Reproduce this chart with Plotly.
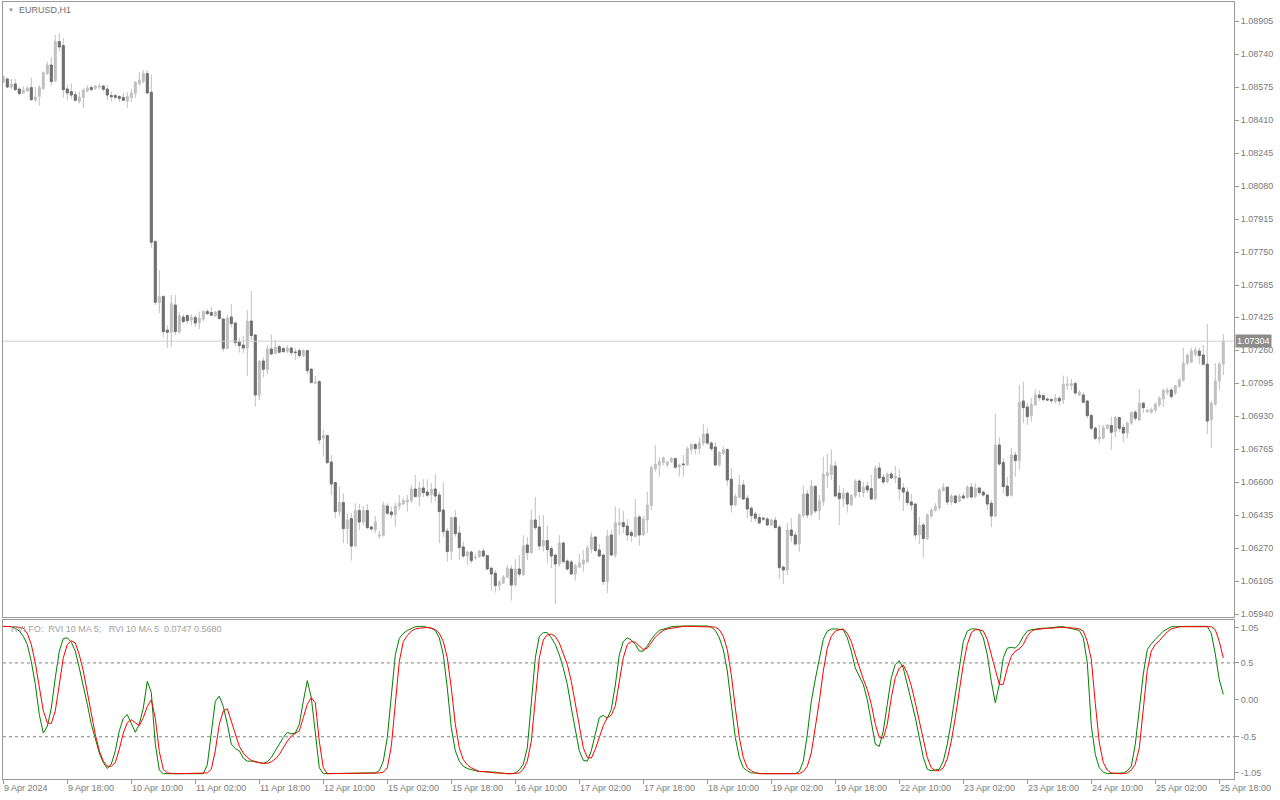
import plotly.graph_objects as go

# ---------------- data (EURUSD H1, 9 Apr 2024 02:00 .. 25 Apr 2024 19:00) ----------------
open_ = [
1.08599,1.08615,1.08575,1.08590,1.08565,1.08545,1.08555,1.08572,1.08510,1.08527,
1.08567,1.08642,1.08685,1.08605,1.08802,1.08782,1.08565,1.08552,1.08537,1.08502,
1.08522,1.08555,1.08572,1.08569,1.08574,1.08580,1.08565,1.08532,1.08532,1.08527,
1.08522,1.08505,1.08522,1.08542,1.08592,1.08602,1.08642,1.08549,1.07802,1.07497,
1.07527,1.07359,1.07349,1.07485,1.07349,1.07425,1.07432,1.07410,1.07422,1.07397,
1.07414,1.07452,1.07447,1.07430,1.07455,1.07415,1.07267,1.07425,1.07395,1.07300,
1.07285,1.07270,1.07405,1.07335,1.07035,1.07205,1.07162,1.07265,1.07242,1.07277,
1.07267,1.07252,1.07270,1.07250,1.07257,1.07232,1.07257,1.07164,1.07094,1.07102,
1.06820,1.06832,1.06700,1.06597,1.06452,1.06497,1.06367,1.06417,1.06280,1.06457,
1.06400,1.06457,1.06375,1.06360,1.06330,1.06334,1.06480,1.06450,1.06435,1.06480,
1.06490,1.06500,1.06507,1.06565,1.06527,1.06570,1.06550,1.06537,1.06565,1.06535,
1.06460,1.06355,1.06252,1.06422,1.06345,1.06275,1.06230,1.06250,1.06222,1.06225,
1.06255,1.06232,1.06169,1.06144,1.06082,1.06095,1.06124,1.06165,1.06085,1.06165,
1.06137,1.06285,1.06247,1.06410,1.06375,1.06280,1.06307,1.06267,1.06235,1.06190,
1.06295,1.06205,1.06200,1.06140,1.06175,1.06190,1.06200,1.06265,1.06325,1.06260,
1.06235,1.06102,1.06335,1.06235,1.06385,1.06397,1.06380,1.06347,1.06327,1.06425,
1.06335,1.06410,1.06482,1.06665,1.06685,1.06697,1.06685,1.06702,1.06717,1.06675,
1.06690,1.06685,1.06762,1.06787,1.06767,1.06795,1.06840,1.06795,1.06775,1.06685,
1.06742,1.06762,1.06614,1.06485,1.06522,1.06585,1.06519,1.06469,1.06440,1.06422,
1.06419,1.06415,1.06385,1.06409,1.06375,1.06175,1.06160,1.06360,1.06335,1.06290,
1.06432,1.06540,1.06439,1.06577,1.06457,1.06502,1.06630,1.06637,1.06680,1.06544,
1.06517,1.06544,1.06485,1.06530,1.06605,1.06547,1.06580,1.06567,1.06515,1.06670,
1.06624,1.06600,1.06640,1.06619,1.06620,1.06570,1.06550,1.06500,1.06490,1.06335,
1.06385,1.06317,1.06430,1.06457,1.06470,1.06557,1.06574,1.06500,1.06530,1.06504,
1.06530,1.06524,1.06574,1.06527,1.06570,1.06549,1.06535,1.06494,1.06430,1.06785,
1.06697,1.06580,1.06532,1.06735,1.06707,1.07005,1.06975,1.06932,1.06985,1.07035,
1.07032,1.07015,1.07012,1.07002,1.07019,1.07010,1.07084,1.07082,1.07092,1.07035,
1.07035,1.07005,1.06932,1.06869,1.06815,1.06819,1.06869,1.06882,1.06852,1.06922,
1.06872,1.06845,1.06894,1.06949,1.06910,1.06994,1.06952,1.06949,1.06959,1.06985,
1.07015,1.07049,1.07060,1.07045,1.07079,1.07109,1.07194,1.07199,1.07239,1.07255,
1.07235,1.07189,1.06910,1.06989,1.07105,1.07189]

high_ = [
1.08632,1.08622,1.08615,1.08615,1.08575,1.08579,1.08580,1.08622,1.08575,1.08585,
1.08652,1.08702,1.08725,1.08835,1.08845,1.08819,1.08585,1.08592,1.08555,1.08552,
1.08569,1.08585,1.08582,1.08585,1.08592,1.08585,1.08585,1.08552,1.08539,1.08535,
1.08545,1.08549,1.08565,1.08605,1.08649,1.08659,1.08659,1.08639,1.07809,1.07659,
1.07535,1.07385,1.07535,1.07535,1.07449,1.07439,1.07439,1.07439,1.07435,1.07452,
1.07460,1.07464,1.07477,1.07454,1.07460,1.07419,1.07435,1.07490,1.07402,1.07324,
1.07330,1.07460,1.07555,1.07339,1.07210,1.07224,1.07285,1.07337,1.07310,1.07284,
1.07274,1.07284,1.07274,1.07269,1.07269,1.07264,1.07260,1.07169,1.07130,1.07110,
1.06860,1.06835,1.06735,1.06602,1.06577,1.06544,1.06444,1.06444,1.06494,1.06490,
1.06480,1.06490,1.06380,1.06430,1.06357,1.06502,1.06494,1.06477,1.06497,1.06535,
1.06519,1.06535,1.06585,1.06635,1.06602,1.06614,1.06614,1.06594,1.06640,1.06552,
1.06597,1.06369,1.06427,1.06460,1.06380,1.06302,1.06257,1.06257,1.06240,1.06260,
1.06269,1.06235,1.06177,1.06160,1.06110,1.06134,1.06185,1.06185,1.06214,1.06235,
1.06334,1.06324,1.06460,1.06524,1.06435,1.06435,1.06380,1.06280,1.06235,1.06334,
1.06302,1.06214,1.06210,1.06190,1.06240,1.06260,1.06285,1.06347,1.06330,1.06290,
1.06235,1.06360,1.06360,1.06477,1.06469,1.06455,1.06415,1.06360,1.06515,1.06435,
1.06427,1.06552,1.06685,1.06785,1.06722,1.06727,1.06705,1.06725,1.06722,1.06692,
1.06735,1.06777,1.06794,1.06794,1.06825,1.06890,1.06872,1.06802,1.06799,1.06755,
1.06777,1.06769,1.06669,1.06542,1.06635,1.06610,1.06535,1.06477,1.06452,1.06439,
1.06425,1.06425,1.06419,1.06427,1.06385,1.06182,1.06394,1.06419,1.06352,1.06444,
1.06582,1.06560,1.06610,1.06585,1.06535,1.06727,1.06740,1.06764,1.06705,1.06585,
1.06569,1.06552,1.06540,1.06614,1.06614,1.06602,1.06602,1.06635,1.06684,1.06697,
1.06640,1.06647,1.06652,1.06680,1.06664,1.06594,1.06574,1.06540,1.06490,1.06427,
1.06397,1.06444,1.06469,1.06494,1.06569,1.06594,1.06577,1.06540,1.06535,1.06540,
1.06547,1.06585,1.06594,1.06594,1.06574,1.06557,1.06540,1.06510,1.06940,1.06824,
1.06719,1.06627,1.06769,1.06752,1.07085,1.07102,1.06994,1.07019,1.07065,1.07060,
1.07039,1.07022,1.07019,1.07039,1.07029,1.07132,1.07127,1.07115,1.07102,1.07060,
1.07049,1.07010,1.06944,1.06877,1.06885,1.06885,1.06889,1.06927,1.06932,1.06927,
1.06889,1.06902,1.06952,1.06960,1.07065,1.06999,1.06965,1.06972,1.06999,1.07029,
1.07065,1.07072,1.07072,1.07085,1.07119,1.07272,1.07244,1.07272,1.07277,1.07272,
1.07285,1.07389,1.07005,1.07194,1.07202,1.07339]

low_ = [
1.08594,1.08569,1.08565,1.08555,1.08535,1.08542,1.08549,1.08505,1.08502,1.08482,
1.08560,1.08635,1.08582,1.08602,1.08752,1.08522,1.08512,1.08515,1.08502,1.08492,
1.08469,1.08549,1.08555,1.08560,1.08565,1.08552,1.08509,1.08502,1.08515,1.08499,
1.08505,1.08472,1.08499,1.08519,1.08582,1.08594,1.08539,1.07772,1.07485,1.07444,
1.07322,1.07272,1.07277,1.07335,1.07344,1.07395,1.07389,1.07382,1.07375,1.07365,
1.07402,1.07435,1.07430,1.07427,1.07414,1.07252,1.07264,1.07374,1.07277,1.07247,
1.07244,1.07130,1.07310,1.06977,1.07010,1.07124,1.07137,1.07234,1.07240,1.07244,
1.07247,1.07244,1.07230,1.07210,1.07219,1.07224,1.07140,1.07094,1.07090,1.06790,
1.06727,1.06690,1.06535,1.06420,1.06430,1.06294,1.06290,1.06207,1.06274,1.06360,
1.06385,1.06364,1.06357,1.06344,1.06317,1.06327,1.06435,1.06419,1.06377,1.06460,
1.06485,1.06452,1.06494,1.06524,1.06480,1.06524,1.06524,1.06497,1.06502,1.06294,
1.06324,1.06202,1.06210,1.06327,1.06210,1.06219,1.06185,1.06194,1.06210,1.06224,
1.06224,1.06160,1.06057,1.06047,1.06057,1.06090,1.06119,1.06007,1.06077,1.06127,
1.06130,1.06210,1.06240,1.06360,1.06260,1.06252,1.06194,1.06169,1.05990,1.06177,
1.06194,1.06157,1.06134,1.06107,1.06170,1.06152,1.06194,1.06244,1.06252,1.06227,
1.06085,1.06044,1.06230,1.06222,1.06335,1.06344,1.06305,1.06299,1.06322,1.06282,
1.06332,1.06344,1.06460,1.06652,1.06627,1.06685,1.06672,1.06695,1.06665,1.06627,
1.06627,1.06682,1.06739,1.06739,1.06739,1.06782,1.06785,1.06755,1.06682,1.06677,
1.06735,1.06582,1.06447,1.06479,1.06519,1.06510,1.06419,1.06399,1.06402,1.06392,
1.06405,1.06382,1.06382,1.06369,1.06115,1.06089,1.06135,1.06302,1.06282,1.06252,
1.06419,1.06419,1.06427,1.06444,1.06410,1.06480,1.06570,1.06610,1.06524,1.06385,
1.06477,1.06447,1.06480,1.06519,1.06524,1.06524,1.06544,1.06510,1.06510,1.06617,
1.06587,1.06594,1.06614,1.06594,1.06507,1.06455,1.06480,1.06457,1.06314,1.06290,
1.06224,1.06310,1.06419,1.06452,1.06460,1.06552,1.06485,1.06485,1.06490,1.06497,
1.06514,1.06517,1.06517,1.06519,1.06535,1.06527,1.06460,1.06374,1.06424,1.06680,
1.06544,1.06524,1.06527,1.06627,1.06660,1.06894,1.06885,1.06902,1.06982,1.07005,
1.07002,1.07005,1.06994,1.06994,1.06982,1.06989,1.07060,1.07060,1.07035,1.07029,
1.06995,1.06919,1.06860,1.06810,1.06794,1.06815,1.06860,1.06760,1.06822,1.06849,
1.06799,1.06819,1.06885,1.06905,1.06905,1.06944,1.06947,1.06942,1.06949,1.06975,
1.06975,1.07035,1.07019,1.07035,1.07069,1.07102,1.07185,1.07194,1.07227,1.07189,
1.07182,1.06839,1.06769,1.06982,1.07060,1.07135]

close_ = [
1.08627,1.08575,1.08590,1.08562,1.08542,1.08560,1.08570,1.08512,1.08525,1.08572,
1.08647,1.08685,1.08602,1.08802,1.08775,1.08562,1.08545,1.08535,1.08509,1.08525,
1.08560,1.08569,1.08562,1.08580,1.08580,1.08564,1.08535,1.08527,1.08524,1.08519,
1.08509,1.08527,1.08545,1.08599,1.08610,1.08642,1.08545,1.07799,1.07499,1.07527,
1.07352,1.07349,1.07492,1.07352,1.07432,1.07402,1.07407,1.07424,1.07395,1.07419,
1.07452,1.07442,1.07434,1.07450,1.07417,1.07269,1.07419,1.07392,1.07297,1.07282,
1.07270,1.07405,1.07332,1.07035,1.07202,1.07164,1.07265,1.07240,1.07275,1.07249,
1.07252,1.07270,1.07247,1.07247,1.07232,1.07257,1.07157,1.07097,1.07100,1.06810,
1.06832,1.06697,1.06590,1.06452,1.06497,1.06367,1.06410,1.06280,1.06457,1.06400,
1.06457,1.06372,1.06365,1.06400,1.06335,1.06485,1.06444,1.06437,1.06480,1.06494,
1.06507,1.06510,1.06565,1.06527,1.06570,1.06547,1.06534,1.06565,1.06530,1.06452,
1.06352,1.06252,1.06422,1.06342,1.06272,1.06230,1.06250,1.06207,1.06225,1.06255,
1.06230,1.06165,1.06140,1.06082,1.06099,1.06125,1.06170,1.06085,1.06165,1.06140,
1.06280,1.06247,1.06410,1.06372,1.06280,1.06307,1.06262,1.06230,1.06190,1.06295,
1.06202,1.06165,1.06140,1.06182,1.06195,1.06210,1.06270,1.06325,1.06257,1.06230,
1.06102,1.06330,1.06235,1.06397,1.06397,1.06377,1.06335,1.06332,1.06425,1.06335,
1.06415,1.06485,1.06672,1.06689,1.06702,1.06722,1.06700,1.06719,1.06674,1.06685,
1.06687,1.06767,1.06787,1.06767,1.06795,1.06840,1.06795,1.06767,1.06685,1.06747,
1.06762,1.06610,1.06485,1.06527,1.06585,1.06515,1.06465,1.06432,1.06419,1.06395,
1.06415,1.06385,1.06409,1.06372,1.06172,1.06160,1.06360,1.06332,1.06290,1.06435,
1.06540,1.06435,1.06580,1.06455,1.06505,1.06640,1.06647,1.06684,1.06530,1.06517,
1.06544,1.06490,1.06532,1.06605,1.06552,1.06574,1.06560,1.06515,1.06670,1.06620,
1.06600,1.06640,1.06620,1.06630,1.06565,1.06550,1.06497,1.06485,1.06335,1.06385,
1.06317,1.06435,1.06460,1.06477,1.06560,1.06574,1.06500,1.06530,1.06497,1.06530,
1.06520,1.06574,1.06525,1.06570,1.06547,1.06535,1.06490,1.06430,1.06785,1.06690,
1.06577,1.06532,1.06735,1.06707,1.06999,1.06972,1.06927,1.06989,1.07035,1.07022,
1.07012,1.07010,1.07007,1.07020,1.07005,1.07089,1.07089,1.07092,1.07045,1.07049,
1.06999,1.06932,1.06869,1.06819,1.06822,1.06872,1.06885,1.06849,1.06922,1.06869,
1.06845,1.06894,1.06949,1.06919,1.06994,1.06972,1.06960,1.06962,1.06989,1.07019,
1.07060,1.07060,1.07027,1.07082,1.07110,1.07194,1.07235,1.07255,1.07260,1.07232,
1.07189,1.06905,1.06994,1.07105,1.07189,1.07304]

# RVI main line (green) and its MA-5 signal line (red)
rvi_main = [
0.995,0.995,0.99,0.97,0.93,0.86,0.75,0.52,0.21,-0.20,
-0.45,-0.36,-0.11,0.30,0.66,0.83,0.84,0.78,0.66,0.43,
0.20,-0.06,-0.33,-0.54,-0.72,-0.85,-0.93,-0.87,-0.69,-0.42,
-0.25,-0.20,-0.33,-0.44,-0.33,-0.11,0.25,0.10,-0.60,-0.95,
-1.0,-1.0,-1.0,-1.0,-1.0,-1.0,-1.0,-1.0,-1.0,-1.0,
-1.0,-0.88,-0.42,-0.02,0.05,-0.09,-0.33,-0.60,-0.66,-0.69,
-0.79,-0.83,-0.83,-0.84,-0.85,-0.86,-0.84,-0.78,-0.69,-0.60,
-0.51,-0.44,-0.46,-0.45,-0.33,-0.02,0.26,0.03,-0.42,-0.92,
-1.0,-1.0,-1.0,-1.0,-1.0,-1.0,-1.0,-1.0,-1.0,-1.0,
-1.0,-1.0,-1.0,-0.99,-0.96,-0.83,-0.51,0.07,0.61,0.83,
0.90,0.94,0.97,0.99,0.995,0.995,0.98,0.97,0.94,0.84,
0.61,0.16,-0.38,-0.69,-0.83,-0.90,-0.93,-0.95,-0.96,-0.97,
-0.97,-0.97,-0.97,-0.98,-0.99,-1.0,-1.0,-1.0,-0.99,-0.95,
-0.87,-0.65,-0.02,0.57,0.86,0.91,0.91,0.84,0.75,0.61,
0.43,0.21,-0.11,-0.42,-0.69,-0.82,-0.83,-0.69,-0.47,-0.24,
-0.21,-0.25,-0.13,0.20,0.61,0.79,0.84,0.81,0.75,0.66,
0.66,0.73,0.82,0.89,0.94,0.96,0.98,0.99,0.995,1.0,
1.0,1.0,1.0,1.0,1.0,1.0,1.0,0.985,0.94,0.84,
0.68,0.39,-0.06,-0.51,-0.78,-0.92,-0.96,-0.99,-0.99,-1.0,
-1.0,-1.0,-1.0,-1.0,-1.0,-1.0,-1.0,-1.0,-1.0,-0.97,
-0.83,-0.47,-0.02,0.28,0.56,0.82,0.93,0.96,0.96,0.96,
0.95,0.84,0.66,0.43,0.32,0.21,0.0,-0.29,-0.60,-0.63,
-0.42,-0.06,0.30,0.48,0.53,0.43,0.21,-0.02,-0.24,-0.51,
-0.78,-0.94,-0.96,-0.95,-0.94,-0.83,-0.60,-0.29,0.07,0.48,
0.79,0.93,0.96,0.96,0.95,0.84,0.61,0.25,-0.04,0.21,
0.57,0.70,0.71,0.70,0.76,0.86,0.93,0.95,0.96,0.96,
0.97,0.97,0.98,0.98,0.99,0.99,0.98,0.97,0.96,0.94,
0.84,0.50,-0.35,-0.74,-0.92,-0.98,-1.0,-1.0,-1.0,-1.0,
-0.99,-0.96,-0.90,-0.60,-0.15,0.35,0.68,0.76,0.82,0.87,
0.93,0.96,0.99,0.99,0.995,0.995,0.995,0.995,0.995,0.995,
0.995,0.995,0.90,0.62,0.27,0.0747]

rvi_signal = [
0.995,0.995,0.995,0.99,0.98,0.97,0.90,0.75,0.50,0.16,
-0.15,-0.31,-0.32,-0.15,0.21,0.57,0.75,0.80,0.77,0.61,
0.39,0.11,-0.20,-0.47,-0.69,-0.83,-0.90,-0.90,-0.85,-0.67,
-0.45,-0.31,-0.27,-0.31,-0.35,-0.24,-0.09,0.0,-0.25,-0.70,
-0.94,-0.99,-1.0,-1.0,-1.0,-1.0,-1.0,-1.0,-1.0,-1.0,
-1.0,-0.99,-0.94,-0.69,-0.33,-0.15,-0.12,-0.29,-0.49,-0.63,
-0.72,-0.78,-0.82,-0.84,-0.85,-0.86,-0.86,-0.84,-0.80,-0.74,
-0.65,-0.56,-0.49,-0.46,-0.42,-0.24,-0.06,0.03,-0.04,-0.56,
-0.92,-1.0,-1.0,-1.0,-1.0,-1.0,-1.0,-1.0,-1.0,-1.0,
-1.0,-1.0,-1.0,-1.0,-0.99,-0.98,-0.92,-0.63,-0.02,0.52,
0.79,0.87,0.93,0.96,0.97,0.98,0.98,0.97,0.95,0.90,
0.79,0.57,0.16,-0.33,-0.65,-0.81,-0.88,-0.92,-0.95,-0.97,
-0.97,-0.98,-0.98,-0.99,-0.99,-1.0,-1.0,-1.0,-1.0,-0.99,
-0.94,-0.83,-0.56,-0.02,0.57,0.81,0.88,0.89,0.86,0.77,
0.63,0.48,0.25,-0.06,-0.38,-0.65,-0.78,-0.79,-0.67,-0.51,
-0.35,-0.24,-0.21,-0.08,0.25,0.57,0.75,0.79,0.78,0.73,
0.68,0.70,0.77,0.85,0.90,0.94,0.96,0.97,0.98,0.99,
0.995,0.995,0.995,0.995,0.995,0.995,0.995,0.995,0.985,0.95,
0.86,0.68,0.34,-0.11,-0.51,-0.78,-0.92,-0.96,-0.99,-1.0,
-1.0,-1.0,-1.0,-1.0,-1.0,-1.0,-1.0,-1.0,-1.0,-1.0,
-0.97,-0.90,-0.72,-0.38,-0.02,0.39,0.70,0.86,0.93,0.95,
0.96,0.90,0.79,0.61,0.43,0.28,0.14,-0.06,-0.33,-0.51,
-0.52,-0.33,0.03,0.30,0.43,0.47,0.36,0.19,-0.04,-0.29,
-0.53,-0.78,-0.92,-0.96,-0.96,-0.92,-0.80,-0.56,-0.24,0.12,
0.48,0.75,0.91,0.95,0.95,0.93,0.82,0.61,0.39,0.21,
0.21,0.43,0.59,0.66,0.69,0.75,0.86,0.93,0.95,0.96,
0.97,0.97,0.97,0.98,0.98,0.98,0.98,0.98,0.97,0.96,
0.93,0.79,0.55,-0.05,-0.58,-0.85,-0.95,-0.99,-1.0,-1.0,
-1.0,-0.99,-0.95,-0.87,-0.65,-0.15,0.40,0.66,0.75,0.80,
0.86,0.92,0.96,0.98,0.99,0.99,0.99,0.99,0.99,0.99,
0.99,0.99,0.99,0.95,0.79,0.568]

time_labels = ["9 Apr 2024", "9 Apr 18:00", "10 Apr 10:00", "11 Apr 02:00", "11 Apr 18:00",
               "12 Apr 10:00", "15 Apr 02:00", "15 Apr 18:00", "16 Apr 10:00", "17 Apr 02:00",
               "17 Apr 18:00", "18 Apr 10:00", "19 Apr 02:00", "19 Apr 18:00", "22 Apr 10:00",
               "23 Apr 02:00", "23 Apr 18:00", "24 Apr 10:00", "25 Apr 02:00", "25 Apr 18:00"]
label_every = 16  # one time label every 16 H1 bars

price_ticks = [1.08905, 1.08740, 1.08575, 1.08410, 1.08245, 1.08080, 1.07915, 1.07750,
               1.07585, 1.07425, 1.07260, 1.07095, 1.06930, 1.06765, 1.06600, 1.06435,
               1.06270, 1.06105, 1.05940]
# MT4 draws the window max/min labels (1.05 / -1.05) just inside the panel edge
rvi_tick_pos = [0.975, 0.5, 0.0, -0.5, -0.99]
rvi_tick_text = ["1.05", "0.5", "0.00", "-0.5", "-1.05"]
rvi_levels = [0.5, -0.5]

symbol_title = "EURUSD,H1"
indicator_title = "RVI FO:\u00a0\u00a0RVI 10 MA 5;\u00a0\u00a0\u00a0RVI 10 MA 5\u00a0\u00a0{:.4f} {:.4f}".format(
    rvi_main[-1], rvi_signal[-1])

# ---------------- styling ----------------
BULL = "#c0c0c0"
BEAR = "#707070"
AXIS = "#9a9a9a"
TXT = "#7a7a7a"
FONT = "Liberation Sans"

n = len(close_)
bars = list(range(n))
label_pos = bars[::label_every][:len(time_labels)]

fig = go.Figure()

# all candles: light wicks for every bar, body fill by direction
fig.add_trace(go.Candlestick(
    x=bars, open=open_, high=high_, low=low_, close=close_,
    increasing=dict(line=dict(color=BULL, width=1), fillcolor=BULL),
    decreasing=dict(line=dict(color=BULL, width=1), fillcolor=BEAR),
    whiskerwidth=0, hoverinfo="skip", showlegend=False, xaxis="x", yaxis="y"))

# dark bodies of bearish candles (body only, no wick)
bear = [i for i in bars if close_[i] < open_[i]]
fig.add_trace(go.Candlestick(
    x=bear,
    open=[open_[i] for i in bear],
    high=[open_[i] for i in bear],
    low=[close_[i] for i in bear],
    close=[close_[i] for i in bear],
    increasing=dict(line=dict(color=BEAR, width=1), fillcolor=BEAR),
    decreasing=dict(line=dict(color=BEAR, width=1), fillcolor=BEAR),
    whiskerwidth=0, hoverinfo="skip", showlegend=False, xaxis="x", yaxis="y"))

fig.add_trace(go.Scatter(x=bars, y=rvi_main, mode="lines",
                         line=dict(color="#008000", width=1),
                         hoverinfo="skip", showlegend=False, xaxis="x2", yaxis="y2"))
fig.add_trace(go.Scatter(x=bars, y=rvi_signal, mode="lines",
                         line=dict(color="#ff0000", width=1),
                         hoverinfo="skip", showlegend=False, xaxis="x2", yaxis="y2"))

W, H = 1280, 800
x_dom = [3 / W, 1234 / W]
x_rng = [-0.075, n + 1.675]

shapes = [dict(type="line", xref="x domain", yref="y", x0=0, x1=1,
               y0=close_[-1], y1=close_[-1], line=dict(color="#cfcfcf", width=1))]
for lv in rvi_levels:
    shapes.append(dict(type="line", xref="x2 domain", yref="y2", x0=0, x1=1, y0=lv, y1=lv,
                       line=dict(color="#808080", width=1, dash="3px,3px")))

annotations = []
for pos, lab in zip(label_pos, time_labels):
    annotations.append(dict(x=pos, xref="x2", y=1 - 788 / H, yref="paper", text=lab,
                            showarrow=False, xanchor="left", yanchor="middle", xshift=-1,
                            font=dict(family=FONT, size=9, color=TXT)))
annotations.append(dict(x=6 / W, y=1 - 10 / H, xref="paper", yref="paper", text="\u25bc",
                        showarrow=False, xanchor="left", yanchor="middle",
                        font=dict(family=FONT, size=6, color="#909090")))
annotations.append(dict(x=17 / W, y=1 - 10 / H, xref="paper", yref="paper", text=symbol_title,
                        showarrow=False, xanchor="left", yanchor="middle",
                        font=dict(family=FONT, size=9, color="#707070")))
annotations.append(dict(x=9 / W, y=1 - 629 / H, xref="paper", yref="paper", text=indicator_title,
                        showarrow=False, xanchor="left", yanchor="middle",
                        font=dict(family=FONT, size=9, color="#a0a0a0")))
annotations.append(dict(x=1235 / W, xref="paper", y=close_[-1], yref="y",
                        text="{:.5f}".format(close_[-1]), showarrow=False,
                        xanchor="left", yanchor="middle", bgcolor="#8c8c8c", borderpad=1,
                        font=dict(family=FONT, size=9, color="#ffffff")))

common_axis = dict(showgrid=False, zeroline=False, showline=True, mirror=True,
                   linecolor=AXIS, linewidth=1, automargin=False, fixedrange=True)

fig.update_layout(
    template="none", autosize=False,
    width=W, height=H, margin=dict(l=0, r=0, t=0, b=0, pad=0),
    paper_bgcolor="#ffffff", plot_bgcolor="#ffffff",
    font=dict(family=FONT, size=9, color=TXT),
    showlegend=False, hovermode=False,
    xaxis=dict(domain=x_dom, range=x_rng, anchor="y", showticklabels=False, ticks="",
               rangeslider=dict(visible=False), **common_axis),
    yaxis=dict(domain=[1 - 617 / H, 1 - 2 / H], range=[1.05925, 1.0900], anchor="x",
               side="right", tickvals=price_ticks, tickformat=".5f", ticks="outside",
               ticklen=4, tickcolor=AXIS, tickfont=dict(family=FONT, size=9, color=TXT),
               **common_axis),
    xaxis2=dict(domain=x_dom, range=x_rng, anchor="y2", tickvals=label_pos,
                showticklabels=False, ticks="outside", ticklen=4, tickcolor=AXIS,
                **common_axis),
    yaxis2=dict(domain=[1 - 779 / H, 1 - 620 / H], range=[-1.072, 1.081], anchor="x2",
                side="right", tickvals=rvi_tick_pos, ticktext=rvi_tick_text, ticks="outside",
                ticklen=4, tickcolor=AXIS, tickfont=dict(family=FONT, size=9, color=TXT),
                **common_axis),
    shapes=shapes, annotations=annotations,
)

fig.write_html("out.html", config={"displayModeBar": False, "responsive": False},
               post_script="document.body.style.margin='0';document.body.style.overflow='hidden';")
